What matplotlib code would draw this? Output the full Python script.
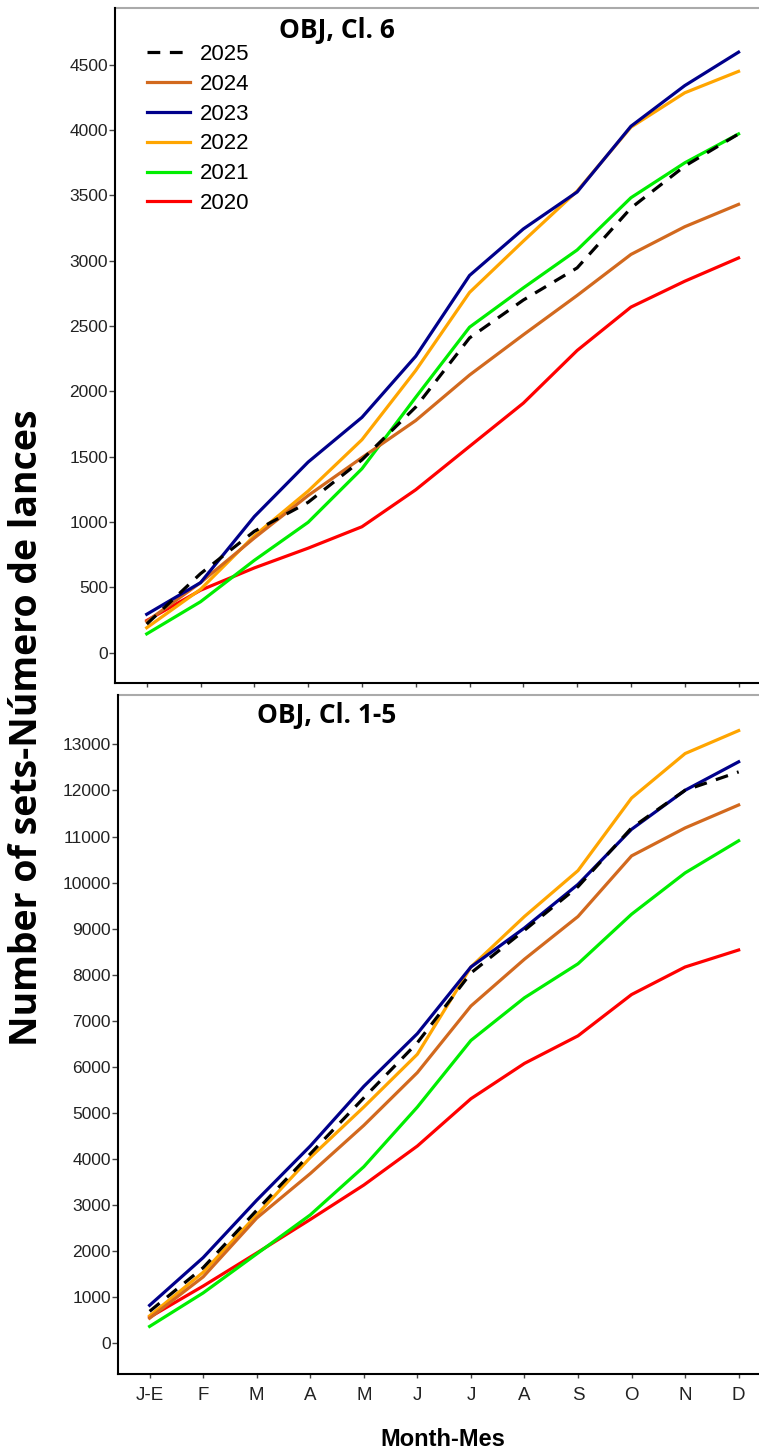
import matplotlib.pyplot as plt

months = ['J-E', 'F', 'M', 'A', 'M', 'J', 'J', 'A', 'S', 'O', 'N', 'D']
years = ['2025', '2024', '2023', '2022', '2021', '2020']
colors = {'2025': 'black', '2024': '#D2691E', '2023': '#00008B',
          '2022': '#FFA500', '2021': '#00EE00', '2020': '#FF0000'}

# OBJ, Cl. 6 (cumulative sets)
cl6_2025 = [219, 605, 929, 1151, 1476, 1880, 2409, 2699, 2945, 3403, 3724, 3970]
cl6_2024 = [239, 536, 878, 1203, 1493, 1777, 2125, 2433, 2734, 3048, 3260, 3431]
cl6_2023 = [294, 536, 1042, 1459, 1801, 2269, 2887, 3243, 3526, 4029, 4340, 4596]
cl6_2022 = [191, 485, 895, 1237, 1630, 2160, 2757, 3150, 3533, 4022, 4285, 4449]
cl6_2021 = [144, 390, 707, 998, 1408, 1955, 2491, 2792, 3082, 3482, 3749, 3970]
cl6_2020 = [246, 478, 649, 800, 964, 1247, 1579, 1910, 2313, 2645, 2843, 3021]

# OBJ, Cl. 1-5
cl15_2025 = [697, 1644, 2889, 4114, 5330, 6525, 8039, 8966, 9912, 11187, 12004, 12403]
cl15_2024 = [548, 1444, 2720, 3686, 4732, 5878, 7322, 8338, 9265, 10580, 11187, 11685]
cl15_2023 = [827, 1863, 3108, 4284, 5579, 6724, 8169, 9016, 9962, 11157, 12004, 12622]
cl15_2022 = [598, 1544, 2789, 4035, 5130, 6276, 8169, 9265, 10261, 11835, 12801, 13299]
cl15_2021 = [369, 1096, 1943, 2789, 3835, 5130, 6575, 7501, 8239, 9314, 10211, 10908]
cl15_2020 = [568, 1245, 1962, 2690, 3437, 4284, 5310, 6077, 6675, 7571, 8169, 8538]

cl6 = {'2025': cl6_2025, '2024': cl6_2024, '2023': cl6_2023,
       '2022': cl6_2022, '2021': cl6_2021, '2020': cl6_2020}
cl15 = {'2025': cl15_2025, '2024': cl15_2024, '2023': cl15_2023,
        '2022': cl15_2022, '2021': cl15_2021, '2020': cl15_2020}

plt.rcParams['font.family'] = ['Liberation Sans', 'DejaVu Sans']

fig = plt.figure(figsize=(7.59, 14.52), dpi=100)
ax1 = fig.add_axes([0.1515, 0.5296, 0.8485, 0.4649])
ax2 = fig.add_axes([0.1555, 0.0537, 0.8445, 0.4676])

x = list(range(len(months)))
draw_order = ['2020', '2021', '2022', '2024', '2023', '2025']


def style(ax, data, ylim, yticks, title, tx, ty, show_xlabels):
    handles = {}
    for yr in draw_order:
        ls = (0, (4, 3)) if yr == '2025' else '-'
        line, = ax.plot(x, data[yr], color=colors[yr], lw=2.3, ls=ls, label=yr)
        handles[yr] = line
    ax.set_xlim(-0.59, 11.38)
    ax.set_ylim(*ylim)
    ax.set_yticks(yticks)
    ax.set_xticks(x)
    ax.set_xticklabels(months if show_xlabels else [])
    for s in ['left', 'bottom']:
        ax.spines[s].set_linewidth(1.5)
        ax.spines[s].set_color('black')
    ax.spines['right'].set_visible(False)
    ax.spines['top'].set_visible(False)
    ax.tick_params(axis='y', length=4, width=1, color='#444444', pad=1,
                   labelsize=12.5, labelcolor='#222222')
    ax.tick_params(axis='x', length=3, width=1, color='#444444', pad=6,
                   labelsize=13.5, labelcolor='#222222')
    # gray top edge with small gaps at the month ticks
    sec = ax.secondary_xaxis('top')
    sec.set_xticks(x)
    sec.set_xticklabels([])
    sec.spines['top'].set_color('#AAAAAA')
    sec.spines['top'].set_linewidth(1.5)
    sec.tick_params(axis='x', direction='inout', length=4, width=1.6, color='white')
    ax.text(tx, ty, title, transform=ax.transAxes, ha='center', va='center',
            fontsize=19, fontweight='bold', family=['Open Sans', 'DejaVu Sans'])
    return handles


h = style(ax1, cl6, (-232, 4934), range(0, 4501, 500), 'OBJ, Cl. 6', 0.345, 0.967, False)
style(ax2, cl15, (-664, 14070), range(0, 13001, 1000), 'OBJ, Cl. 1-5', 0.326, 0.9705, True)

ax1.legend([h[y] for y in years], years, loc='upper left', bbox_to_anchor=(0.0497, 0.947),
           frameon=False, fontsize=16, handlelength=1.95, handletextpad=0.45,
           labelspacing=0.40, borderpad=0, borderaxespad=0)

fig.text(27 / 759, 0.4986, 'Number of sets-Número de lances', rotation=90,
         ha='center', va='center', fontsize=27, fontweight='bold',
         family=['Open Sans', 'DejaVu Sans'])
fig.text(443 / 759, 1 - 1439 / 1452, 'Month-Mes', ha='center', va='center',
         fontsize=17, fontweight='bold')

fig.savefig('out.png', dpi=100)
